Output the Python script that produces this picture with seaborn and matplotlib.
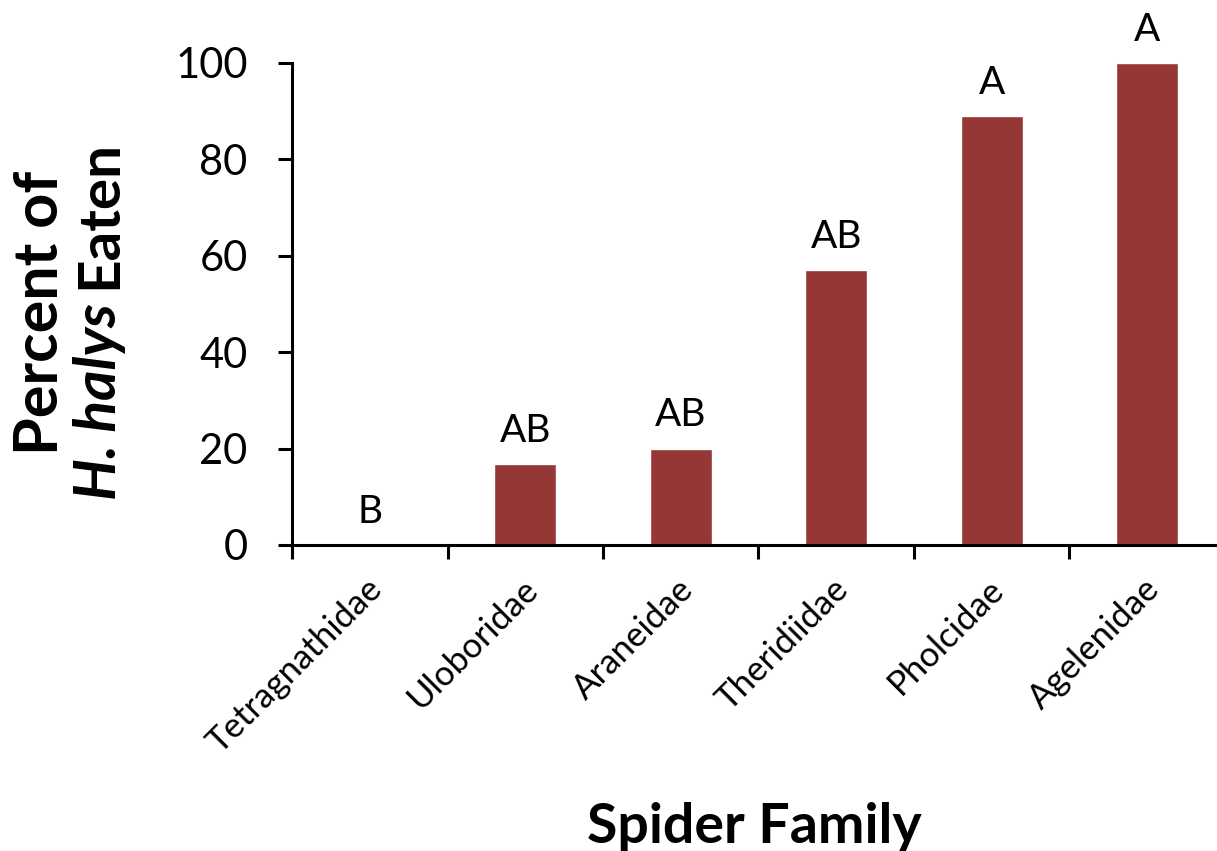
import matplotlib
matplotlib.use("Agg")
import matplotlib.pyplot as plt  # For drawing charts
import matplotlib.transforms as mtransforms
import seaborn as sns  # For the bar plot
import pandas as pd

# Chart data
families = ["Tetragnathidae", "Uloboridae", "Araneidae", "Theridiidae", "Pholcidae", "Agelenidae"]
percent_eaten = [0, 16.7, 20, 57.1, 88.9, 100]
letters = ["B", "AB", "AB", "AB", "A", "A"]

sns.set_style("white")
plt.rcParams["font.family"] = ["Lato", "DejaVu Sans"]
plt.rcParams["text.color"] = "black"
plt.rcParams["axes.labelcolor"] = "black"
plt.rcParams["xtick.color"] = "black"
plt.rcParams["ytick.color"] = "black"

df = pd.DataFrame({"Family": families, "Percent": percent_eaten})

fig = plt.figure(figsize=(12.17, 8.51), dpi=100)
ax = fig.add_axes([0.24, 0.3596, 0.76, 0.5664])

sns.barplot(data=df, x="Family", y="Percent", color="#953735", width=0.4,
            saturation=1, ax=ax)

ax.set_ylim(0, 100)
ax.set_xlim(-0.5, 5.45)
ax.set_yticks(range(0, 101, 20))
ax.tick_params(axis="y", labelsize=30, direction="out", length=10, width=2.2,
               left=True, pad=22)

# category labels without ticks, ticks between categories instead
ax.set_xticks(range(len(families)))
ax.set_xticklabels(families, rotation=45, ha="right", rotation_mode="anchor", fontsize=25)
ax.tick_params(axis="x", which="major", length=0, pad=20)
shift = mtransforms.ScaledTranslation(-4 / 100, 0, fig.dpi_scale_trans)
for lbl in ax.get_xticklabels():
    lbl.set_transform(lbl.get_transform() + shift)
ax.set_xticks([i - 0.5 for i in range(len(families))], minor=True)
ax.tick_params(axis="x", which="minor", direction="out", length=10, width=2.2, bottom=True)

for side in ["top", "right"]:
    ax.spines[side].set_visible(False)
for side in ["left", "bottom"]:
    ax.spines[side].set_linewidth(2.2)
    ax.spines[side].set_color("black")

# significance letters above the bars
for i, (v, lab) in enumerate(zip(percent_eaten, letters)):
    ax.annotate(lab, (i, v), xytext=(0, 16), textcoords="offset points",
                ha="center", va="baseline", fontsize=28, clip_on=False)

ax.set_ylabel("")
ax.set_xlabel("")
fig.text(0.62, 1 - 843 / 851, "Spider Family", fontsize=40, fontweight="bold",
         ha="center", va="baseline")

# two-line y label, second line is partly italic
fig.text(0.033, 1 - 455 / 851, "Percent of", rotation=90, fontsize=44, fontweight="bold",
         ha="center", va="bottom")
t1 = fig.text(0.082, 1 - 500 / 851, "H. halys", rotation=90, fontsize=42, fontweight="bold",
              style="italic", ha="center", va="bottom")
ax.annotate("Eaten", xy=(0.5, 1), xycoords=t1, xytext=(0, 10), textcoords="offset points",
            rotation=90, fontsize=42, fontweight="bold", ha="center", va="bottom",
            annotation_clip=False)

fig.savefig("out.png", dpi=100)
